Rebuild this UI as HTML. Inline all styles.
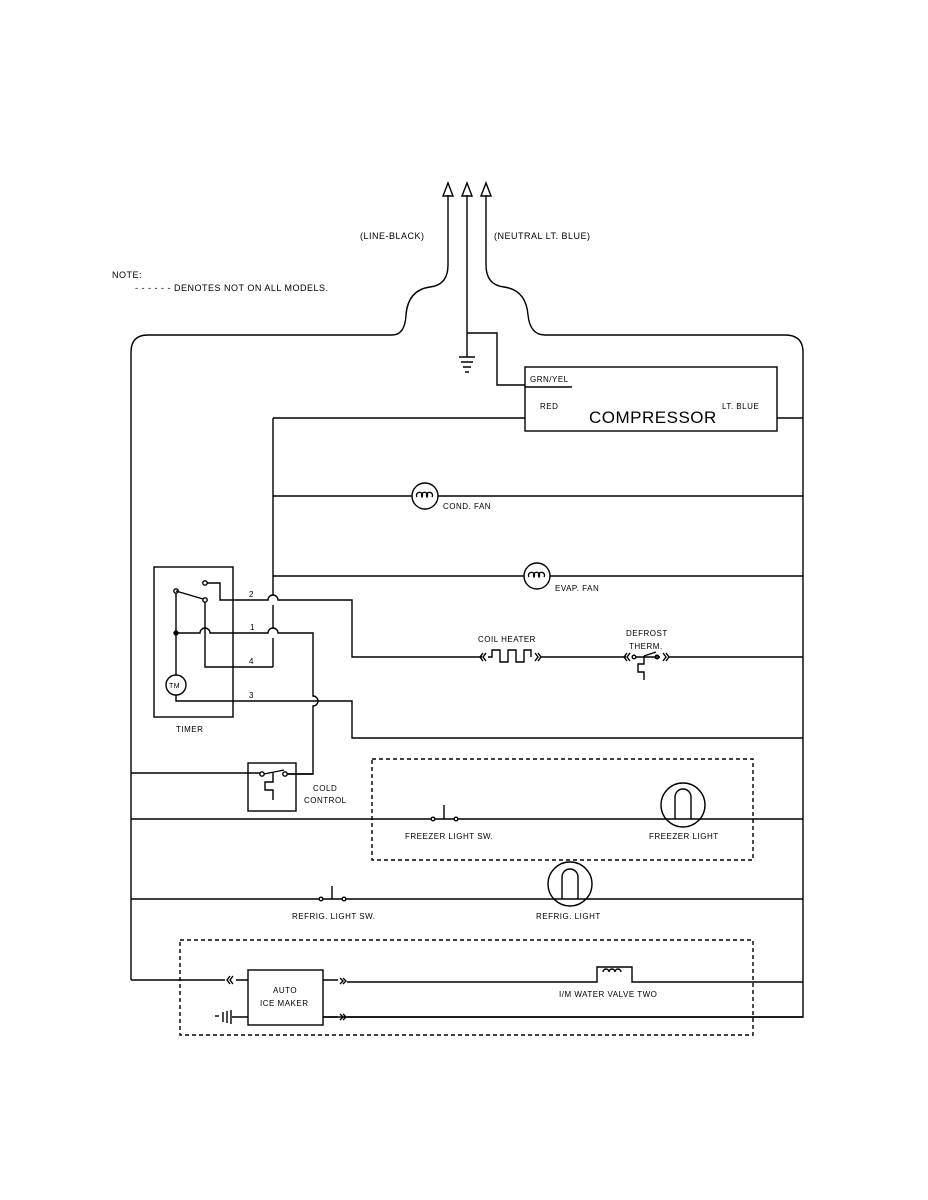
<!DOCTYPE html>
<html><head><meta charset="utf-8"><style>
html,body{margin:0;padding:0;background:#fff;}
svg{display:block;}
text{font-family:"Liberation Sans",sans-serif;font-size:9px;fill:#000;letter-spacing:0.5px;}
</style></head><body>
<svg width="928" height="1200" viewBox="0 0 928 1200" xmlns="http://www.w3.org/2000/svg">
<g fill="none" stroke="#000" stroke-width="1.4">
<path d="M131 980 V352 Q131 335 148 335 H392 Q405 335 406 315 Q408 290 430 287 Q448 285 448 265 V195"/>
<path d="M486 195 V265 Q486 285 504 287 Q526 290 528 315 Q530 335 545 335 H785 Q803 335 803 352 V1017 H323"/>
<path d="M467 195 V357"/>
<path d="M443 196 L448 183 L453 196 Z M462 196 L467 183 L472 196 Z M481 196 L486 183 L491 196 Z"/>
<path d="M459 357 H475 M461 362 H473 M463 367 H471 M465 372 H469"/>
<path d="M467 333 H497 V385 H525"/>
<rect x="525" y="367" width="252" height="64"/>
<path d="M525 387 H572"/>
<path d="M273 418 H525 M777 418 H803"/>
<path d="M273 418 V595 M273 605 V628 M273 638 V667"/>
<path d="M273 496 H412 M438 496 H803"/>
<circle cx="425" cy="496" r="13"/>
<path d="M417 497 a3 3 0 1 1 5 0 a3 3 0 1 1 5 0 a3 3 0 1 1 5 0"/>
<path d="M273 576 H524 M550 576 H803"/>
<circle cx="537" cy="576" r="13"/>
<path d="M529 577 a3 3 0 1 1 5 0 a3 3 0 1 1 5 0 a3 3 0 1 1 5 0"/>
<rect x="154" y="567" width="79" height="150"/>
<circle cx="205" cy="583" r="2.2"/>
<path d="M207 583 H220 V600 H268 a5 5 0 0 1 10 0 H352 V657 H482"/>
<circle cx="176" cy="591" r="2.2"/>
<circle cx="205" cy="600" r="2.2"/>
<path d="M176 591 L203 599 M176 593 V675"/>
<circle cx="176" cy="633" r="2" fill="#000"/>
<path d="M176 633 H200 a5 5 0 0 1 10 0 H268 a5 5 0 0 1 10 0 H313 V696 a5 5 0 0 1 0 10 V774 H288"/>
<path d="M205 602 V667 H273"/>
<circle cx="176" cy="685" r="10"/>
<path d="M176 695 V701 H352 V738 H803"/>
<path d="M488 657 H492 V650 H500 V662 H508 V650 H516 V662 H524 V650 H531 V657"/>
<path d="M486 653 l-3 4 l3 4 M483 653 l-3 4 l3 4 M535 653 l3 4 l-3 4 M538 653 l3 4 l-3 4"/>
<path d="M541 657 H626"/>
<path d="M630 653 l-3 4 l3 4 M627 653 l-3 4 l3 4"/>
<circle cx="634" cy="657" r="1.8"/>
<path d="M636 657 H660"/>
<circle cx="657" cy="657" r="1.8"/>
<path d="M644 656 L656 652 M644 656 V664 H638 V672 H644 V680"/>
<path d="M663 653 l3 4 l-3 4 M666 653 l3 4 l-3 4 M669 657 H803"/>
<rect x="248" y="763" width="48" height="48"/>
<path d="M131 773 H260"/>
<circle cx="262" cy="774" r="2.2"/>
<circle cx="285" cy="774" r="2.2"/>
<path d="M287 774 H313"/>
<path d="M264 774 L284 770 M273 773 V782 H265 V790 H273 V800"/>
<rect x="372" y="759" width="381" height="101" stroke-dasharray="4 3"/>
<path d="M131 819 H431 M458 819 H803"/>
<circle cx="433" cy="819" r="1.8"/><circle cx="456" cy="819" r="1.8"/>
<path d="M435 819 H455 M444 819 V805"/>
<circle cx="683" cy="805" r="22"/>
<path d="M675 819 V797 a8 8 0 0 1 16 0 V819"/>
<path d="M131 899 H319 M346 899 H803"/>
<circle cx="321" cy="899" r="1.8"/><circle cx="344" cy="899" r="1.8"/>
<path d="M323 899 H343 M332 899 V886"/>
<circle cx="570" cy="884" r="22"/>
<path d="M562 899 V877 a8 8 0 0 1 16 0 V899"/>
<rect x="180" y="940" width="573" height="95" stroke-dasharray="4 3"/>
<path d="M131 980 H225 M236 980 H248"/>
<path d="M230 976 l-3 4 l3 4 M233 976 l-3 4 l3 4"/>
<rect x="248" y="970" width="75" height="55"/>
<path d="M323 980 H338 M347 982 H597 V967 H632 V982 H803"/>
<path d="M340 978 l3 3 l-3 3 M343 978 l3 3 l-3 3"/>
<path d="M603 972 a3 3 0 1 1 6 0 a3 3 0 1 1 6 0 a3 3 0 1 1 6 0"/>
<path d="M323 1017 H338 M347 1017 H803"/>
<path d="M340 1014 l3 3 l-3 3 M343 1014 l3 3 l-3 3"/>
<path d="M232 1017 H248 M231 1010 V1024 M227 1011 V1023 M223 1012 V1022"/>
<path d="M215 1016 h4"/>
</g>
<text x="360" y="239">(LINE-BLACK)</text>
<text x="494" y="239">(NEUTRAL LT. BLUE)</text>
<text x="112" y="278">NOTE:</text>
<text x="135" y="291">- - - - - - DENOTES NOT ON ALL MODELS.</text>
<text x="530" y="382" style="font-size:8px">GRN/YEL</text>
<text x="540" y="409" style="font-size:8px">RED</text>
<text x="589" y="423" style="font-size:17px;letter-spacing:0.5px">COMPRESSOR</text>
<text x="722" y="409" style="font-size:8px">LT. BLUE</text>
<text x="443" y="509" style="font-size:8px">COND. FAN</text>
<text x="555" y="591" style="font-size:8px">EVAP. FAN</text>
<text x="249" y="597" style="font-size:8px">2</text>
<text x="250" y="630" style="font-size:8px">1</text>
<text x="249" y="664" style="font-size:8px">4</text>
<text x="249" y="698" style="font-size:8px">3</text>
<text x="169" y="688" style="font-size:7px">TM</text>
<text x="176" y="732" style="font-size:8px">TIMER</text>
<text x="478" y="642" style="font-size:8px">COIL HEATER</text>
<text x="626" y="636" style="font-size:8px">DEFROST</text>
<text x="629" y="649" style="font-size:8px">THERM.</text>
<text x="313" y="791" style="font-size:8px">COLD</text>
<text x="304" y="803" style="font-size:8px">CONTROL</text>
<text x="405" y="839" style="font-size:8px">FREEZER LIGHT SW.</text>
<text x="649" y="839" style="font-size:8px">FREEZER LIGHT</text>
<text x="292" y="919" style="font-size:8px">REFRIG. LIGHT SW.</text>
<text x="536" y="919" style="font-size:8px">REFRIG. LIGHT</text>
<text x="273" y="993" style="font-size:8px">AUTO</text>
<text x="260" y="1006" style="font-size:8px">ICE MAKER</text>
<text x="559" y="997" style="font-size:8px">I/M WATER VALVE TWO</text>
</svg>
</body></html>
